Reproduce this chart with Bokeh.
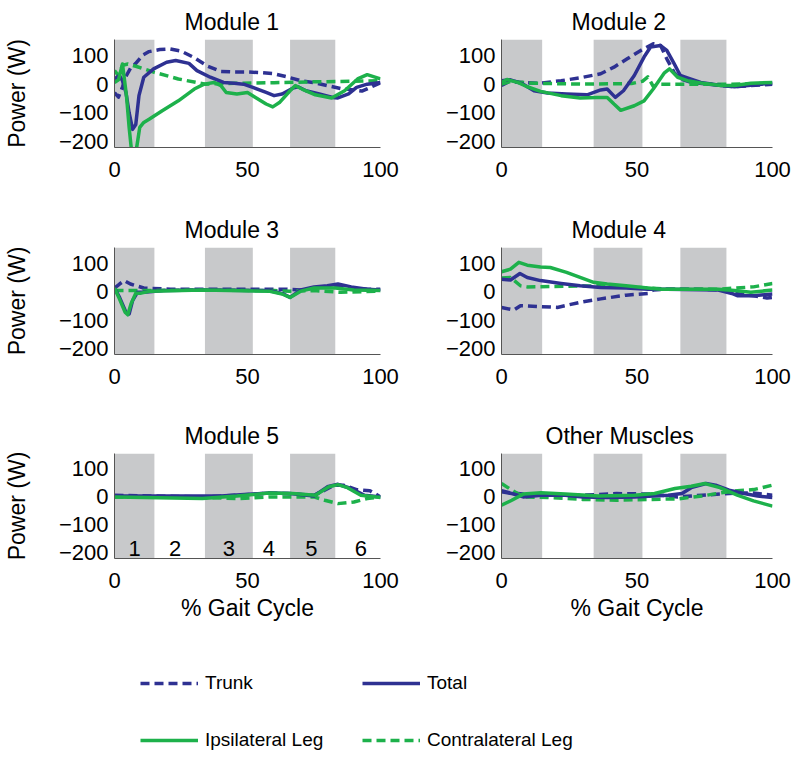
from bokeh.plotting import figure
from bokeh.models import Range1d, BoxAnnotation, Title, Legend, LegendItem, FixedTicker
from bokeh.layouts import column, row
from bokeh.embed import file_html
from bokeh.resources import INLINE
from bokeh.core.properties import value

# ---------------- data ----------------
panel_titles = ["Module 1", "Module 2", "Module 3", "Module 4", "Module 5", "Other Muscles"]
series_names = ["Trunk", "Total", "Ipsilateral Leg", "Contralateral Leg"]
x_ticks = [0, 50, 100]
y_ticks = [-200, -100, 0, 100]
band_start = [0, 34, 66]
band_end = [15, 52, 83]
phase_labels = ["1", "2", "3", "4", "5", "6"]
phase_x = [7.6, 22.8, 43, 58, 74, 92.6]
phase_y = [-185, -185, -185, -185, -185, -185]

# Module 1
m1_trunk_x = [0, 1.5, 3, 4.5, 6, 8, 10.5, 13, 17, 21, 25, 30, 35, 40, 45, 50, 55, 60, 65, 70, 75, 80, 85, 90, 93, 96, 100]
m1_trunk_y = [-30, -45, -10, 30, 55, 72, 100, 113, 120, 122, 115, 92, 62, 44, 42, 42, 40, 36, 25, 12, 5, -5, -15, -20, -24, -12, 5]
m1_total_x = [0, 1.8, 3, 4.3, 5.5, 6.8, 8, 9.2, 11, 14.7, 19.6, 23, 28, 31, 36, 41, 45, 48.5, 52, 57, 60, 63, 67, 69, 72, 77, 82, 84, 88, 91, 95, 100]
m1_total_y = [18, 30, 12, -29, -99, -157, -140, -40, 24, 53, 76, 82, 72, 47, 24, 6, 3, 0, -11, -29, -40, -34, -14, -9, -23, -34, -46, -48, -34, -11, 0, 6]
m1_ipsi_x = [0, 1.5, 3, 4.5, 5.5, 6.5, 8, 9.5, 11, 13, 17.8, 24, 30, 33.7, 37.4, 40, 42, 46, 50, 53, 57, 59.5, 62, 66, 68, 70.5, 75.5, 81.6, 86.5, 91.4, 95, 100]
m1_ipsi_y = [6, 15, 70, -40, -150, -240, -240, -150, -133, -122, -93, -58, -17, 0, 6, -5, -29, -34, -29, -46, -69, -79, -64, -23, -5, -17, -37, -48, -23, 18, 33, 18]
m1_contra_x = [0, 1.5, 3, 5, 8, 15, 24, 34, 45, 60, 75, 90, 100]
m1_contra_y = [47, 30, 65, 70, 62, 41, 18, 0, 3, 5, 8, 10, 12]

# Module 2
m2_trunk_x = [0, 3.3, 7, 14.4, 22, 29, 36.6, 41.5, 46.4, 51.4, 56, 58.7, 61, 63.7, 66, 70, 76, 81, 86, 92, 100]
m2_trunk_y = [-5, 12, 6, 3, 12, 22, 36, 59, 88, 117, 140, 134, 88, 41, 18, 6, 0, -5, -9, -5, 0]
m2_total_x = [0, 3.3, 8, 12, 17, 24, 31.6, 36.6, 39, 42, 45, 49, 52.6, 55, 58.7, 61, 63.7, 66, 68.6, 73.5, 81, 86, 91, 96, 100]
m2_total_y = [12, 15, 0, -23, -31, -34, -37, -20, -17, -46, -23, 30, 94, 129, 134, 117, 71, 30, 22, 6, -5, -9, -5, 0, 3]
m2_ipsi_x = [0, 2, 6, 9.5, 14.4, 22, 29, 35, 39, 41.5, 44, 49, 52.6, 56, 60, 62, 65, 68.6, 73.5, 81, 86, 92, 100]
m2_ipsi_y = [6, 16, 6, -9, -25, -40, -48, -46, -46, -69, -91, -75, -58, -17, 38, 53, 24, 12, 4, -5, -5, 3, 6]
m2_contra_x = [0, 3.3, 12, 30, 48, 52, 54, 56, 58, 70, 85, 100]
m2_contra_y = [0, 9, 3, 0, 2, 10, 25, -8, 0, 0, 0, 3]

# Module 3
m3_trunk_x = [0, 1.9, 3.7, 6, 11, 21, 40, 65, 70, 76.5, 83, 89, 95, 100]
m3_trunk_y = [13, 27, 39, 27, 13, 9, 9, 9, 6, 15, 17, 13, 9, 9]
m3_total_x = [0, 1.9, 4.3, 5.5, 6.8, 8.6, 11, 18.5, 33, 58, 63, 66, 70, 75, 80, 84, 89, 95, 100]
m3_total_y = [13, -20, -72, -78, -31, -2, -2, 4, 6, 4, -6, -20, 6, 17, 21, 27, 17, 9, 6]
m3_ipsi_x = [0, 1.9, 4, 5, 6.2, 8, 10, 13.6, 33, 58, 63, 66, 70, 75, 83, 90, 100]
m3_ipsi_y = [13, -26, -72, -81, -43, -5, -5, 2, 6, 2, -8, -20, 2, 13, 13, 6, 4]
m3_contra_x = [0, 10, 30, 60, 66, 75, 85, 100]
m3_contra_y = [4, 4, 6, 4, 2, 4, -2, 2]

# Module 4
m4_trunk_x = [0, 4.6, 7, 14.4, 20.6, 29, 36.6, 46, 54, 56, 61, 73.5, 81, 86, 93, 98, 100]
m4_trunk_y = [-55, -64, -49, -52, -55, -37, -25, -12, -6, 6, 9, 9, 6, -6, -14, -22, -20]
m4_total_x = [0, 3.3, 6.8, 9.5, 14.4, 22, 29, 36.6, 46, 54, 61, 80, 85, 87, 93, 100]
m4_total_y = [44, 41, 64, 50, 39, 29, 21, 15, 13, 9, 9, 6, -6, -14, -14, -8]
m4_ipsi_x = [0, 3.3, 6.4, 9.5, 14.4, 18, 24, 29, 34, 39, 46, 54, 59, 67, 80, 86, 92, 100]
m4_ipsi_y = [70, 79, 103, 93, 87, 85, 68, 50, 33, 27, 21, 13, 9, 9, 9, 4, -2, 6]
m4_contra_x = [0, 3.3, 7, 9.5, 36.6, 54, 61, 80, 86, 93, 100]
m4_contra_y = [48, 50, 21, 17, 21, 13, 9, 9, 13, 17, 29]

# Module 5
m5_trunk_x = [0, 33, 46, 53, 58, 65, 75, 79, 82.5, 86, 91, 96, 100]
m5_trunk_y = [6, 0, 6, 10, 14, 12, 6, 24, 42, 42, 26, 22, 0]
m5_total_x = [0, 40, 58, 66, 75, 80, 84, 89, 94, 100]
m5_total_y = [3, 3, 14, 12, 3, 36, 45, 30, 6, 0]
m5_ipsi_x = [0, 33, 46, 58, 67, 75.5, 80.6, 84, 87.6, 92.6, 100]
m5_ipsi_y = [0, -6, 3, 14, 12, 6, 36, 44, 33, 6, -2]
m5_contra_x = [0, 33, 46, 58, 75, 79, 84, 90, 95, 100]
m5_contra_y = [0, -2, -6, 0, 0, -12, -24, -18, -6, 0]

# Other muscles
m6_trunk_x = [0, 3, 8, 17, 30, 42.5, 55, 65, 74, 80.6, 87, 93, 100]
m6_trunk_y = [22, 15, 10, 6, 6, 12, 10, 0, 6, 10, 14, 14, 6]
m6_total_x = [0, 3.8, 8, 14.6, 23.5, 30, 39, 49, 61.5, 66.6, 70, 75.5, 79, 84, 89.5, 94.5, 100]
m6_total_y = [18, 12, 0, 6, 6, 0, -2, 0, 6, 12, 33, 48, 42, 24, 12, 3, -2]
m6_ipsi_x = [0, 3.8, 8, 14.6, 23.5, 36, 49, 56.5, 64, 70, 75, 80.6, 87, 93, 100]
m6_ipsi_y = [-30, -12, 10, 15, 10, 3, 6, 12, 30, 38, 48, 33, 6, -14, -33]
m6_contra_x = [0, 3.8, 8, 17, 30, 42.5, 55, 65, 74, 80.6, 87, 93, 100]
m6_contra_y = [48, 24, 0, -2, -9, -12, -9, -7, 3, 14, 22, 26, 42]

# ---------------- style ----------------
FONT = "Liberation Sans"
BLUE = "#2E3192"
GREEN = "#1DB14B"
BAND = "#C8C9CB"
AXIS = "#555555"
LW = 3.5
DASH = "9 5"

panel_series = [
    (m1_trunk_x, m1_trunk_y, m1_total_x, m1_total_y, m1_ipsi_x, m1_ipsi_y, m1_contra_x, m1_contra_y),
    (m2_trunk_x, m2_trunk_y, m2_total_x, m2_total_y, m2_ipsi_x, m2_ipsi_y, m2_contra_x, m2_contra_y),
    (m3_trunk_x, m3_trunk_y, m3_total_x, m3_total_y, m3_ipsi_x, m3_ipsi_y, m3_contra_x, m3_contra_y),
    (m4_trunk_x, m4_trunk_y, m4_total_x, m4_total_y, m4_ipsi_x, m4_ipsi_y, m4_contra_x, m4_contra_y),
    (m5_trunk_x, m5_trunk_y, m5_total_x, m5_total_y, m5_ipsi_x, m5_ipsi_y, m5_contra_x, m5_contra_y),
    (m6_trunk_x, m6_trunk_y, m6_total_x, m6_total_y, m6_ipsi_x, m6_ipsi_y, m6_contra_x, m6_contra_y),
]

row_height = [207, 207, 210]
row_top = [39, 40, 39]
row_frame = [108, 107, 105]
col_left = [108, 101]
col_right = [20, 28]
title_offset = [70, 70, 70, 70, 70, 44]


def make_panel(i):
    r = i // 2
    c = i % 2
    h = row_height[r]
    p = figure(width=400, height=h, toolbar_location=None, output_backend="svg",
               x_range=Range1d(0, 100), y_range=Range1d(-220, 155),
               min_border_left=col_left[c], min_border_right=col_right[c],
               min_border_top=row_top[r], min_border_bottom=h - row_top[r] - row_frame[r],
               outline_line_color=None, background_fill_color="white")
    p.grid.visible = False
    for s, e in zip(band_start, band_end):
        p.add_layout(BoxAnnotation(left=s, right=e, fill_color=BAND, fill_alpha=1.0,
                                   line_alpha=0, level="underlay"))
    tx, ty, ox, oy, ix, iy, cx, cy = panel_series[i]
    p.line(tx, ty, line_color=BLUE, line_width=LW, line_dash=DASH, line_join="round")
    p.line(cx, cy, line_color=GREEN, line_width=LW, line_dash=DASH, line_join="round")
    p.line(ox, oy, line_color=BLUE, line_width=LW, line_join="round")
    p.line(ix, iy, line_color=GREEN, line_width=LW, line_join="round")

    if i == 4:
        p.text(x=phase_x, y=phase_y, text=phase_labels, text_font=value(FONT),
               text_font_size="22px", text_align="center", text_baseline="middle",
               text_color="black")

    p.xaxis.ticker = FixedTicker(ticks=x_ticks)
    p.yaxis.ticker = FixedTicker(ticks=y_ticks)
    for ax in (p.xaxis[0], p.yaxis[0]):
        ax.major_tick_in = 0
        ax.major_tick_out = 0
        ax.minor_tick_in = 0
        ax.minor_tick_out = 0
        ax.axis_line_color = AXIS
        ax.axis_line_width = 1
        ax.major_label_text_font = FONT
        ax.major_label_text_font_size = "22px"
        ax.major_label_text_color = "black"
        ax.axis_label_text_font = FONT
        ax.axis_label_text_font_size = "23px"
        ax.axis_label_text_font_style = "normal"
        ax.axis_label_text_color = "black"
    p.xaxis.major_label_standoff = 14
    p.yaxis.major_label_standoff = 6
    if c == 0:
        p.yaxis.axis_label = "Power (W)"
        p.yaxis.axis_label_standoff = 26
    if r == 2:
        p.xaxis.axis_label = "% Gait Cycle"
        p.xaxis.axis_label_standoff = 4

    t = Title(text=panel_titles[i], align="left", offset=title_offset[i],
              text_font=FONT, text_font_size="23px", text_font_style="normal",
              text_color="black", standoff=10)
    p.add_layout(t, "above")
    return p


panels = [make_panel(i) for i in range(6)]

# ---------------- legend ----------------
leg = figure(width=800, height=139, toolbar_location=None, output_backend="svg",
             x_axis_location=None, y_axis_location=None, min_border=0,
             outline_line_color=None, x_range=Range1d(0, 1), y_range=Range1d(0, 1))
leg.grid.visible = False
off_x = [5, 6]
off_y = [5, 6]
r_trunk = leg.line(off_x, off_y, line_color=BLUE, line_width=LW, line_dash=DASH)
r_total = leg.line(off_x, off_y, line_color=BLUE, line_width=LW)
r_ipsi = leg.line(off_x, off_y, line_color=GREEN, line_width=LW)
r_contra = leg.line(off_x, off_y, line_color=GREEN, line_width=LW, line_dash=DASH)
leg_renderers = [r_trunk, r_total, r_ipsi, r_contra]
leg_locs = [(140, 69), (362, 69), (140, 12), (362, 12)]
for name, rend, loc in zip(series_names, leg_renderers, leg_locs):
    lg = Legend(items=[LegendItem(label=name, renderers=[rend])], location=loc,
                glyph_width=58, glyph_height=20, label_height=20, label_standoff=7,
                padding=0, margin=0, spacing=0, border_line_alpha=0,
                background_fill_alpha=0, label_text_font=FONT,
                label_text_font_size="19px", label_text_color="black")
    leg.add_layout(lg)

layout = column(row(panels[0], panels[1]), row(panels[2], panels[3]),
                row(panels[4], panels[5]), leg)

open("out.html", "w").write(file_html(layout, INLINE))
